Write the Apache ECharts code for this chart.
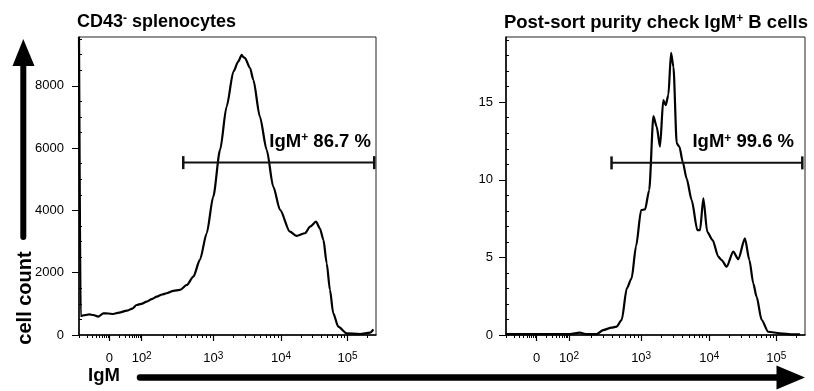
<!DOCTYPE html>
<html><head><meta charset="utf-8">
<script src="https://cdn.jsdelivr.net/npm/echarts@6/dist/echarts.min.js"></script>
<style>html,body{margin:0;padding:0;background:#fff}#c{width:814px;height:391px}</style>
</head><body><div id="c"></div>
<script>
// ---- data (x in display channels 0..1000 of the biexponential IgM axis) ----
const leftX = [0, 5.7, 20, 35, 48, 65, 82, 98, 115, 135, 161, 180, 194, 210, 228, 245, 262, 280, 295, 318, 340, 363, 385, 407, 430, 452, 475, 497, 520, 536, 548, 553, 559, 576, 587, 609, 632, 654, 677, 710, 733, 761, 778, 798, 811, 823, 834, 845, 856, 873, 901, 946, 980, 991];
const leftY = [9570, 610, 640, 660, 643, 588, 697, 690, 675, 720, 781, 850, 964, 1000, 1070, 1150, 1231, 1300, 1340, 1420, 1446, 1607, 1873, 2410, 3268, 4444, 5944, 7335, 8460, 8781, 8996, 8930, 8890, 8569, 8193, 7014, 5944, 4765, 4016, 3319, 3181, 3268, 3480, 3640, 3428, 3052, 2304, 1446, 697, 267, 55, 32, 74, 183];
const rightX = [0, 114, 214, 247, 270, 303, 325, 353, 370, 387, 404, 420, 435, 452, 465, 479, 493, 504, 515, 526, 534, 543, 552, 560, 571, 580, 591, 604, 621, 640, 649, 660, 673, 691, 710, 721, 738, 760, 777, 799, 814, 827, 838, 855, 877, 916, 961, 983];
const rightY = [0.05, 0.05, 0.05, 0.15, 0.05, 0.05, 0.32, 0.47, 0.54, 0.97, 3.0, 3.65, 5.72, 8.05, 8.09, 9.34, 14.1, 13.42, 12.13, 15.13, 14.81, 15.45, 18.18, 17.28, 12.34, 12.13, 11.16, 10.09, 8.69, 6.76, 6.76, 8.81, 6.65, 6.12, 5.05, 4.83, 4.40, 5.37, 4.88, 6.22, 4.83, 3.33, 2.47, 0.97, 0.21, 0.11, 0.04, 0.04];
const leftGateX = [351, 994];
const leftGateY = 5536;
const leftGateText = 'IgM{s|+} 86.7 %';
const rightGateX = [353, 991];
const rightGateY = 11.09;
const rightGateText = 'IgM{s|+} 99.6 %';
// axis ticks
const xDecadeCh = [102.5, 211, 452, 680, 904];
const xDecadeLabels = ['0', '10{s|2}', '10{s|3}', '10{s|4}', '10{s|5}'];
const leftYTicks = [0, 2000, 4000, 6000, 8000];
const leftYMax = 9570;
const leftYMinorStep = 500;
const rightYTicks = [0, 5, 10, 15];
const rightYMax = 19.2;
const rightYMinorStep = 1;

const FONT = '"Liberation Sans", Arial, Helvetica, sans-serif';

function xMinorTicks() {
  const c = xDecadeCh, t = [];
  for (let m = 2; m <= 9; m++) {
    const l = Math.log10(m);
    t.push(c[0] - (c[1] - c[0]) * (1 - l));
    t.push(c[0] + (c[1] - c[0]) * l);
    for (let d = 1; d < c.length - 1; d++) t.push(c[d] + (c[d + 1] - c[d]) * l);
    const v = c[4] + (c[4] - c[3]) * l;
    if (v < 1000) t.push(v);
  }
  t.push(1);
  return t.sort((a, b) => a - b);
}
function yMinor(step, max, major) {
  const t = [];
  for (let v = step; v < max; v += step) if (!major.some(m => Math.abs(m - v) < 1e-9)) t.push(+v.toFixed(6));
  return t;
}

const chart = echarts.init(document.getElementById('c'), null, { renderer: 'canvas' });
const axisLineStyle = { color: '#000', width: 1.5 };
const richX = {
  b: { fontSize: 13, color: '#000', fontFamily: FONT, verticalAlign: 'bottom', lineHeight: 14, padding: [5, 0, 0, 0] },
  s: { fontSize: 10, color: '#000', fontFamily: FONT, verticalAlign: 'top', lineHeight: 10 }
};
function majorX(grid) {
  return {
    type: 'value', gridIndex: grid, min: 0, max: 1000, position: 'bottom',
    axisLine: { show: true, lineStyle: axisLineStyle },
    axisTick: { show: true, length: 6, customValues: xDecadeCh, lineStyle: { color: '#000', width: 1.2 } },
    axisLabel: { show: true, customValues: xDecadeCh, margin: 16,
      formatter: (v) => { const i = xDecadeCh.findIndex(c => Math.abs(c - v) < 1e-6); const s = i >= 0 ? xDecadeLabels[i] : ''; return s.indexOf('{') >= 0 ? s.replace(/^([^{]+)/, '{b|$1}') : '{b|' + s + '}'; },
      rich: richX },
    splitLine: { show: false }
  };
}
function minorX(grid) {
  return {
    type: 'value', gridIndex: grid, min: 0, max: 1000, position: 'bottom',
    axisLine: { show: false },
    axisTick: { show: true, length: 3, customValues: xMinorTicks(), lineStyle: { color: '#000', width: 1 } },
    axisLabel: { show: false }, splitLine: { show: false }
  };
}
function majorY(grid, ticks, max, margin) {
  return {
    type: 'value', gridIndex: grid, min: 0, max: max,
    axisLine: { show: true, lineStyle: axisLineStyle },
    axisTick: { show: true, length: 7, customValues: ticks, lineStyle: { color: '#000', width: 1 } },
    axisLabel: { show: true, customValues: ticks, margin: margin, fontSize: 13, color: '#000', fontFamily: FONT,
      formatter: (v) => String(v) },
    splitLine: { show: false }
  };
}
function minorY(grid, step, max, ticks) {
  return {
    type: 'value', gridIndex: grid, min: 0, max: max,
    axisLine: { show: false },
    axisTick: { show: true, length: 3, customValues: yMinor(step, max, ticks), lineStyle: { color: '#000', width: 1 } },
    axisLabel: { show: false }, splitLine: { show: false }
  };
}
function gateSeries(xi, yi, xs, y, text, dx) {
  return {
    type: 'line', xAxisIndex: xi, yAxisIndex: yi, silent: true, animation: false,
    symbol: 'rect', symbolSize: [2.5, 13], itemStyle: { color: '#111' },
    lineStyle: { color: '#111', width: 2 },
    data: [[xs[0], y], { value: [xs[1], y], label: { show: true, formatter: text, position: [dx, -5], align: 'right', verticalAlign: 'bottom',
      rich: { s: { fontSize: 12, fontWeight: 'bold', color: '#000', fontFamily: FONT, verticalAlign: 'top', lineHeight: 12 } },
      fontSize: 18.5, fontWeight: 'bold', color: '#000', fontFamily: FONT } }],
    z: 5
  };
}
function histSeries(xi, yi, xs, ys) {
  return {
    type: 'line', xAxisIndex: xi, yAxisIndex: yi, showSymbol: false, symbol: 'none', animation: false,
    smooth: 0.25, smoothMonotone: 'x',
    lineStyle: { color: '#000', width: 2.2 },
    data: xs.map((x, i) => [x, ys[i]]), z: 3
  };
}
const titleRich = { s: { fontSize: 12, fontWeight: 'bold', verticalAlign: 'top', lineHeight: 10, color: '#000', fontFamily: FONT } };

chart.setOption({
  animation: false,
  backgroundColor: '#fff',
  textStyle: { fontFamily: FONT },
  title: [
    { text: 'CD43{s|-} splenocytes', left: 72, top: 8,
      textStyle: { fontSize: 18, fontWeight: 'bold', color: '#000', fontFamily: FONT, rich: titleRich } },
    { text: 'Post-sort purity check IgM{s|+} B cells', right: 1, top: 8,
      textStyle: { fontSize: 18.5, fontWeight: 'bold', color: '#000', fontFamily: FONT, rich: titleRich } }
  ],
  grid: [
    { left: 79, top: 37, width: 297, height: 298, show: true, borderColor: '#222', borderWidth: 1, backgroundColor: 'transparent' },
    { left: 506, top: 37, width: 299, height: 298, show: true, borderColor: '#222', borderWidth: 1, backgroundColor: 'transparent' }
  ],
  xAxis: [majorX(0), minorX(0), majorX(1), minorX(1)],
  yAxis: [majorY(0, leftYTicks, leftYMax, 15), minorY(0, leftYMinorStep, leftYMax, leftYTicks),
          majorY(1, rightYTicks, rightYMax, 13), minorY(1, rightYMinorStep, rightYMax, rightYTicks)],
  series: [
    histSeries(0, 0, leftX, leftY),
    gateSeries(0, 0, leftGateX, leftGateY, leftGateText, -2),
    histSeries(2, 2, rightX, rightY),
    gateSeries(2, 2, rightGateX, rightGateY, rightGateText, -7)
  ],
  graphic: [
    { type: 'line', shape: { x1: 23.3, y1: 237, x2: 23.3, y2: 64 }, style: { stroke: '#000', lineWidth: 6, lineCap: 'round' } },
    { type: 'polygon', shape: { points: [[23.3, 39], [12.5, 66], [34.5, 66]] }, style: { fill: '#000' } },
    { type: 'line', shape: { x1: 140, y1: 377.5, x2: 779, y2: 377.5 }, style: { stroke: '#000', lineWidth: 6.5, lineCap: 'round' } },
    { type: 'polygon', shape: { points: [[776.5, 365.5], [805, 377.5], [776.5, 389.5]] }, style: { fill: '#000' } },
    { type: 'text', left: 88, top: 366, style: { text: 'IgM', font: 'bold 18.5px ' + FONT, fill: '#000' } },
    { type: 'text', x: 25, y: 298, rotation: Math.PI / 2, style: { text: 'cell count', font: 'bold 20px ' + FONT, fill: '#000', align: 'center', verticalAlign: 'middle' } }
  ]
});
</script></body></html>
